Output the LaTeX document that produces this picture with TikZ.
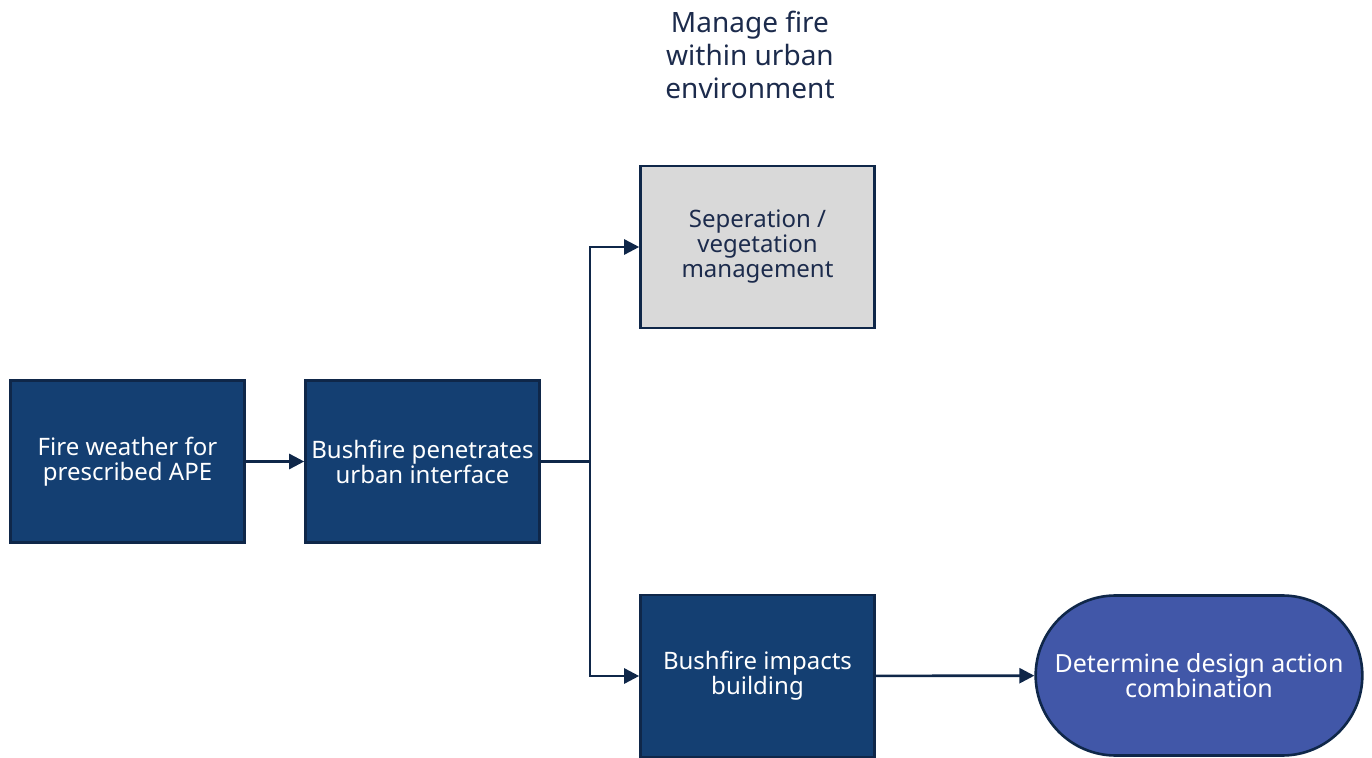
\documentclass[tikz,border=0pt]{standalone}
\usepackage{fontspec}
\setmainfont{Noto Sans}
\usetikzlibrary{arrows.meta,shapes.misc}
\definecolor{navy}{HTML}{143F72}
\definecolor{navyline}{HTML}{0F2749}
\definecolor{graybox}{HTML}{D9D9D9}
\definecolor{stadium}{HTML}{4157A8}
\definecolor{titlecol}{HTML}{1C2B4C}
\tikzset{
  box/.style={draw=navyline, line width=1.3pt, fill=navy, text=white, minimum width=117pt, minimum height=81pt, align=center, font=\fontsize{12}{12.5}\selectfont, inner sep=2pt},
  graybx/.style={box, fill=graybox, text=titlecol},
  stad/.style={draw=navyline, line width=1.3pt, fill=stadium, text=white, rounded rectangle, minimum width=170pt, minimum height=80pt, align=center, font=\fontsize{12.5}{12.5}\selectfont},
  conn/.style={draw=navyline, line width=1.3pt, -{Triangle[length=7.5pt,width=7.5pt]}},
}
\begin{document}
\begin{tikzpicture}[x=0.5pt,y=-0.5pt]
\useasboundingbox (0,0) rectangle (1372,758);
\node[text=titlecol, align=center, font=\fontsize{14}{16.5}\selectfont] (title) at (750,55) {Manage fire\\within urban\\environment};
\node[box] (a) at (127.5,461.5) {Fire weather for\\prescribed APE};
\node[box] (b) at (422.5,461.5) {Bushfire penetrates\\urban interface};
\node[graybx] (c) at (757.5,247) {Seperation /\\vegetation\\management};
\node[box] (d) at (757.5,676) {Bushfire impacts\\building};
\node[stad] (e) at (1199,675.5) {Determine design action\\combination};
\coordinate (j) at (590,461.5);
\draw[conn] (a) -- (b);
\draw[draw=navyline, line width=1.3pt] (b.east) -- (j);
\draw[conn] (j) |- (c.west);
\draw[conn] (j) |- (d.west);
\draw[conn] (d) -- (e);
\end{tikzpicture}
\end{document}
